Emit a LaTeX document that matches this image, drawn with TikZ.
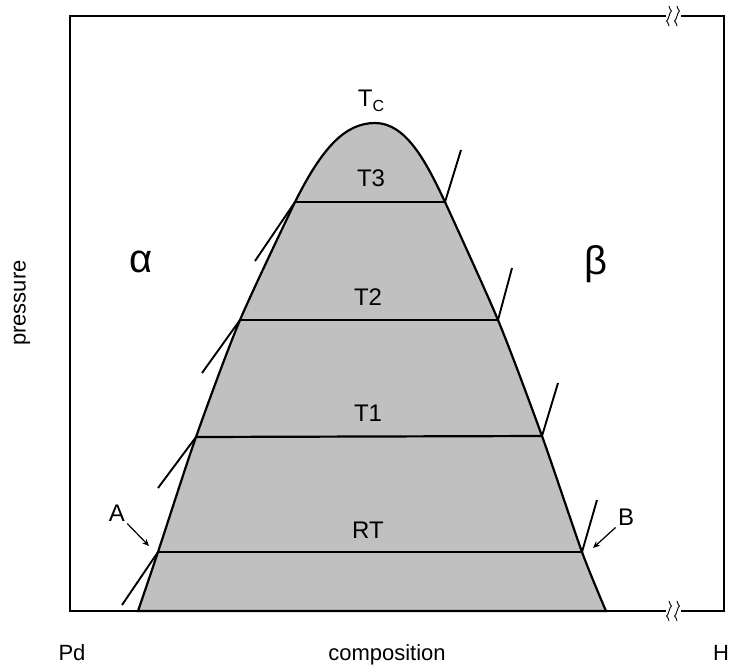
\documentclass[tikz,border=0pt]{standalone}
\usepackage{fontspec}
\setmainfont{Liberation Sans}
\usetikzlibrary{arrows.meta}
\definecolor{domegray}{RGB}{192,192,192}
\tikzset{
  frameline/.style={line width=2.6pt},
  tieline/.style={line width=2.2pt},
  tangent/.style={line width=1.9pt},
  squiggle/.style={line width=0.9pt},
  lbl/.style={font=\fontsize{24}{24}\selectfont, inner sep=0pt},
  axislbl/.style={font=\fontsize{22}{22}\selectfont, inner sep=0pt, anchor=base},
  phaselbl/.style={font=\fontsize{40}{40}\selectfont, inner sep=0pt},
}

\begin{document}
\begin{tikzpicture}[x=1pt,y=-1pt]
\useasboundingbox (0,0) rectangle (736,667);
% Ends of the tie lines
\coordinate (t3l) at (295,202);  \coordinate (t3r) at (445,202);
\coordinate (t2l) at (240,320);  \coordinate (t2r) at (498,320);
\coordinate (t1l) at (196,437);  \coordinate (t1r) at (542,436);
\coordinate (rtl) at (158,552);  \coordinate (rtr) at (582,552);
% Two-phase dome
\filldraw[fill=domegray, tieline]
  plot[smooth, tension=0.45] coordinates {(138,611) (158,552) (196,437) (240,320) (295,202)}
  .. controls (322,148) and (345,123) .. (375,123)
  .. controls (405,123) and (425,159) .. (445,202)
  -- plot[smooth, tension=0.45] coordinates {(445,202) (498,320) (542,436) (582,552) (606,611)}
  -- cycle;
% Frame with breaks
\draw[frameline] (666,16) -- (70,16) -- (70,611) -- (666,611);
\draw[frameline] (681,16) -- (724,16) -- (724,611) -- (681,611);
\foreach \bx/\by in {669/16,677/16,669/611,677/611}
  \draw[squiggle, shift={(\bx,\by)}] (0,-10) sin (2.5,-5) cos (0,0) sin (-2.5,5) cos (0,10);
% Tie lines
\draw[tieline] (t3l) -- (t3r);
\draw[tieline] (t2l) -- (t2r);
\draw[tieline] (t1l) -- (t1r);
\draw[tieline] (rtl) -- (rtr);
% Tangents
\draw[tangent] (t3l) -- ++(-40,59);
\draw[tangent] (t2l) -- ++(-38,53);
\draw[tangent] (t1l) -- ++(-38,51);
\draw[tangent] (rtl) -- ++(-36,53);
\draw[tangent] (t3r) -- ++(16,-52);
\draw[tangent] (t2r) -- ++(14,-52);
\draw[tangent] (t1r) -- ++(16,-53);
\draw[tangent] (rtr) -- ++(15,-52);
% Labels
\node[lbl] (tc) at (371,101) {T\raisebox{-0.35ex}{\fontsize{16}{16}\selectfont C}};
\node[lbl] (tthree) at (371,178) {T3};
\node[lbl] (ttwo) at (368,297) {T2};
\node[lbl] (tone) at (368,413) {T1};
\node[lbl] (troom) at (368,530) {RT};
\node[phaselbl] (alpha) at (141,262) {α};
\node[phaselbl] (beta) at (596,264) {β};
\node[lbl] (alab) at (117,513) {A};
\node[lbl] (blab) at (626,517) {B};
\draw[line width=1.2pt, -{Stealth[length=7pt,width=6pt]}, shorten <=3pt] (alab.south east) -- ([shift={(-9,-6)}]rtl);
\draw[line width=1.2pt, -{Stealth[length=7pt,width=6pt]}, shorten <=3pt] (blab.south west) -- ([shift={(11,-4)}]rtr);
% Axis labels
\node[axislbl, rotate=90, anchor=center] (pres) at (22,303) {pressure};
\node[axislbl] (pd) at (72,660) {Pd};
\node[axislbl] (comp) at (387,660) {composition};
\node[axislbl] (hyd) at (721,660) {H};
\end{tikzpicture}
\end{document}
